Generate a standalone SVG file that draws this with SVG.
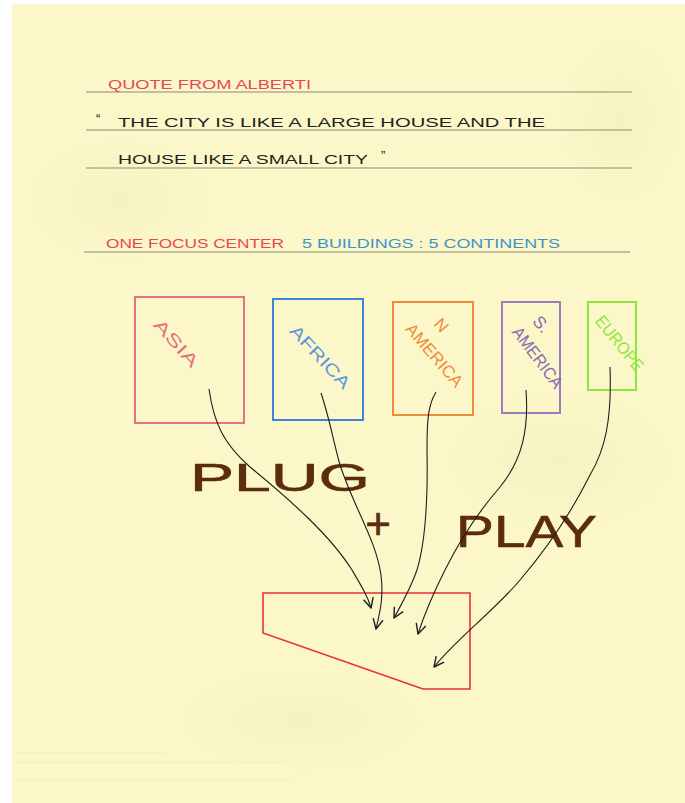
<svg xmlns="http://www.w3.org/2000/svg" width="685" height="803" viewBox="0 0 685 803">
  <defs>
    <marker id="arr" viewBox="-12 -7 14 14" markerWidth="14" markerHeight="14" markerUnits="userSpaceOnUse" refX="0" refY="0" orient="auto">
      <path d="M-10,-5 L0,0 L-10,5" fill="none" stroke="#1e1e1e" stroke-width="1.4" stroke-linejoin="round"/>
    </marker>
    <radialGradient id="stain" cx="0.5" cy="0.5" r="0.5">
      <stop offset="0" stop-color="#ece5b0" stop-opacity="0.3"/>
      <stop offset="1" stop-color="#ece5b0" stop-opacity="0"/>
    </radialGradient>
  </defs>
  <style>
    .hand { font-family: "Liberation Sans", "DejaVu Sans", sans-serif; }
    .rule { stroke: #8b8a72; stroke-width: 1.1; fill: none; }
    .box { fill: none; stroke-width: 2; }
    .lbl { font-family: "Liberation Sans", "DejaVu Sans", sans-serif; font-size: 17px; text-anchor: middle; }
    .marker { font-family: "Liberation Sans", "DejaVu Sans", sans-serif; fill: #5b2d0d; stroke: #5b2d0d; stroke-width: 0.6; stroke-linejoin: round; }
    .conn { fill: none; stroke: #1e1e1e; stroke-width: 1.1; marker-end: url(#arr); }
  </style>

  <!-- paper -->
  <rect x="0" y="0" width="685" height="803" fill="#ffffff"/>
  <rect x="12" y="4" width="673" height="799" fill="#fbf7c8"/>
  <ellipse cx="120" cy="200" rx="90" ry="60" fill="url(#stain)"/>
  <ellipse cx="560" cy="460" rx="110" ry="70" fill="url(#stain)"/>
  <ellipse cx="300" cy="720" rx="120" ry="50" fill="url(#stain)"/>
  <ellipse cx="620" cy="120" rx="60" ry="80" fill="url(#stain)"/>
  <line x1="15" y1="753" x2="165" y2="753" stroke="#a8d4a8" stroke-width="0.7" opacity="0.25"/>
  <line x1="15" y1="762" x2="290" y2="762" stroke="#d0c898" stroke-width="0.7" opacity="0.25"/>
  <line x1="15" y1="780" x2="290" y2="780" stroke="#d0c898" stroke-width="0.7" opacity="0.2"/>

  <!-- header text with ruled lines -->
  <g id="header">
    <line class="rule" x1="86" y1="92" x2="632" y2="92"/>
    <line class="rule" x1="86" y1="130" x2="632" y2="130"/>
    <line class="rule" x1="86" y1="168" x2="632" y2="168"/>
    <line class="rule" x1="84" y1="252" x2="630" y2="252"/>
    <text class="hand" x="108" y="89" font-size="12" fill="#e8455e" textLength="203" lengthAdjust="spacingAndGlyphs">QUOTE FROM ALBERTI</text>
    <text class="hand" x="96" y="123" font-size="13" fill="#222">“</text>
    <text class="hand" x="118" y="127" font-size="13" fill="#222" textLength="427" lengthAdjust="spacingAndGlyphs">THE CITY IS LIKE A LARGE HOUSE AND THE</text>
    <text class="hand" x="118" y="164" font-size="12" fill="#222" textLength="250" lengthAdjust="spacingAndGlyphs">HOUSE LIKE A SMALL CITY</text>
    <text class="hand" x="381" y="160" font-size="13" fill="#222">”</text>
    <text class="hand" x="106" y="248" font-size="12" fill="#e8455e" textLength="178" lengthAdjust="spacingAndGlyphs">ONE FOCUS CENTER</text>
    <text class="hand" x="302" y="248" font-size="12" fill="#3a93d0" textLength="258" lengthAdjust="spacingAndGlyphs">5 BUILDINGS : 5 CONTINENTS</text>
  </g>

  <!-- continent buildings -->
  <g id="asia">
    <rect class="box" x="135" y="297" width="109" height="126" stroke="#e8707e"/>
    <text class="lbl" x="0" y="0" fill="#e8707e" transform="translate(172,347) rotate(48)" textLength="58" lengthAdjust="spacingAndGlyphs">ASIA</text>
  </g>
  <g id="africa">
    <rect class="box" x="273" y="299" width="90" height="121" stroke="#3d84d6"/>
    <text class="lbl" x="0" y="0" fill="#5c98dc" transform="translate(316,361) rotate(47)" textLength="80" lengthAdjust="spacingAndGlyphs">AFRICA</text>
  </g>
  <g id="n-america">
    <rect class="box" x="393" y="302" width="80" height="113" stroke="#f28a3c"/>
    <text class="lbl" x="0" y="0" fill="#f28a3c" transform="translate(437,329) rotate(48)">N</text>
    <text class="lbl" x="0" y="0" fill="#f28a3c" transform="translate(430,359) rotate(49)" textLength="78" lengthAdjust="spacingAndGlyphs">AMERICA</text>
  </g>
  <g id="s-america">
    <rect class="box" x="502" y="302" width="58" height="111" stroke="#9b7cc0"/>
    <text class="lbl" x="0" y="0" fill="#8a6cb2" transform="translate(537,328) rotate(50)">S.</text>
    <text class="lbl" x="0" y="0" fill="#8a6cb2" transform="translate(533,361) rotate(53)" textLength="72" lengthAdjust="spacingAndGlyphs">AMERICA</text>
  </g>
  <g id="europe">
    <rect class="box" x="588" y="302" width="48" height="88" stroke="#8ce63c"/>
    <text class="lbl" x="0" y="0" fill="#8ce63c" transform="translate(615,347) rotate(51)" textLength="66" lengthAdjust="spacingAndGlyphs">EUROPE</text>
  </g>

  <!-- plug + play -->
  <g id="plug-play">
    <text class="marker" x="190" y="491" font-size="39" textLength="180" lengthAdjust="spacingAndGlyphs">PLUG</text>
    <text class="marker" x="378" y="539" font-size="44" text-anchor="middle">+</text>
    <text class="marker" x="456" y="547" font-size="45" textLength="141" lengthAdjust="spacingAndGlyphs">PLAY</text>
  </g>

  <!-- focus center -->
  <g id="center">
    <polygon points="263,593 470,593 470,689 423,689 263,633" fill="none" stroke="#ee2d36" stroke-width="1.6"/>
  </g>

  <!-- connectors -->
  <g id="connectors">
    <path class="conn" d="M209,389 C214,425 225,445 250,467 C290,500 330,535 352,570 C362,587 368,597 371,608"/>
    <path class="conn" d="M321,393 C330,420 333,440 340,465 C355,510 376,540 381,575 C384,600 379,615 376,629"/>
    <path class="conn" d="M436,392 C428,405 427,420 427,450 C428,500 426,540 417,570 C410,590 401,605 394,618"/>
    <path class="conn" d="M526,390 C529,430 522,460 500,487 C480,510 460,540 445,570 C435,590 425,612 418,634"/>
    <path class="conn" d="M610,367 C612,420 605,450 590,475 C575,505 550,545 520,580 C495,610 455,640 434,667"/>
  </g>
</svg>
